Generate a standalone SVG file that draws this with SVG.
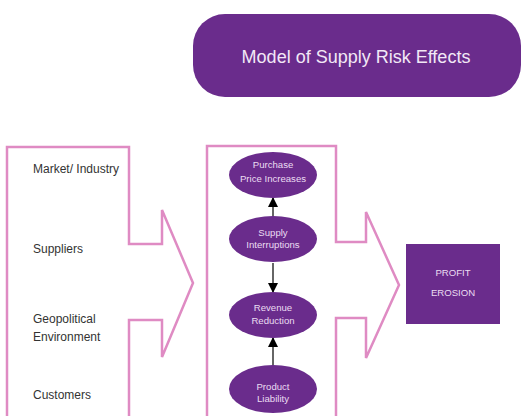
<svg xmlns="http://www.w3.org/2000/svg" width="521" height="416" viewBox="0 0 521 416">
<defs>
<style>
.frame{fill:none;stroke:#df8bc3;stroke-width:2.5;stroke-linejoin:miter}
.lbl{font-family:"Liberation Sans",Arial,sans-serif;font-size:12px;fill:#333}
.node{fill:#6a2c8c}
.ntx{font-family:"Liberation Sans",Arial,sans-serif;font-size:9.6px;fill:#eadcf2;text-anchor:middle}
.conn{stroke:#666;stroke-width:2;fill:none}
</style>
<marker id="ah" viewBox="0 0 10 10" refX="9" refY="5" markerWidth="5" markerHeight="5.5" orient="auto" markerUnits="strokeWidth">
<path d="M0,0 L10,5 L0,10 Z" fill="#000"/>
</marker>
</defs>
<rect width="521" height="416" fill="#fff"/>

<g id="title">
<rect x="193" y="14" width="328" height="83" rx="32" ry="32" class="node"/>
<text x="356" y="63" font-family="Liberation Sans,Arial,sans-serif" font-size="18" fill="#f2e8f6" text-anchor="middle">Model of Supply Risk Effects</text>
</g>

<g id="factors">
<path class="frame" d="M7,147 H129 V244 H162 V210 L193,283 L162,357 V320 H129 V420 H7 Z"/>
<text class="lbl" x="33" y="173">Market/ Industry</text>
<text class="lbl" x="33" y="253">Suppliers</text>
<text class="lbl" x="33" y="323">Geopolitical</text>
<text class="lbl" x="33" y="341">Environment</text>
<text class="lbl" x="33" y="399">Customers</text>
</g>

<g id="effects-frame">
<path class="frame" d="M207,146 H336 V242 H366 V212 L399,285 L366,358 V318 H336 V420 H207 Z"/>
</g>

<g id="connectors">
<line class="conn" x1="273" y1="216" x2="273" y2="198" marker-end="url(#ah)"/>
<line class="conn" x1="273" y1="263" x2="273" y2="292" marker-end="url(#ah)"/>
<line class="conn" x1="273" y1="366" x2="273" y2="338" marker-end="url(#ah)"/>
</g>

<g id="purchase">
<ellipse class="node" cx="273" cy="175" rx="44" ry="23"/>
<text class="ntx" x="273" y="168">Purchase</text>
<text class="ntx" x="273" y="182">Price Increases</text>
</g>
<g id="supply">
<ellipse class="node" cx="273" cy="239" rx="44" ry="23"/>
<text class="ntx" x="273" y="236">Supply</text>
<text class="ntx" x="273" y="248">Interruptions</text>
</g>
<g id="revenue">
<ellipse class="node" cx="273" cy="315" rx="44" ry="23"/>
<text class="ntx" x="273" y="311">Revenue</text>
<text class="ntx" x="273" y="324">Reduction</text>
</g>
<g id="product">
<ellipse class="node" cx="273" cy="389" rx="44" ry="24"/>
<text class="ntx" x="273" y="390">Product</text>
<text class="ntx" x="273" y="402">Liability</text>
</g>

<g id="profit">
<rect x="406" y="244" width="94" height="80" class="node"/>
<text class="ntx" x="453" y="276">PROFIT</text>
<text class="ntx" x="453" y="296">EROSION</text>
</g>
</svg>
